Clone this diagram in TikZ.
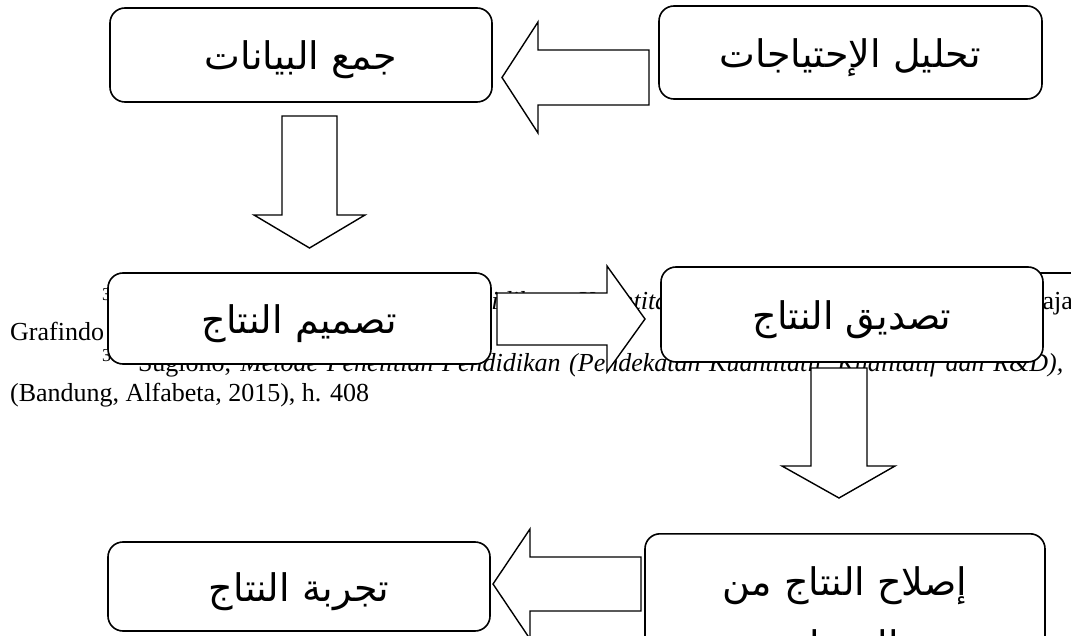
\documentclass[tikz,border=0pt]{standalone}
\usepackage{fontspec}
\setmainfont{Liberation Serif}
\newfontfamily\arabicfont[Script=Arabic]{DejaVu Sans}
\TeXXeTstate=1
\newcommand\artxt[1]{\raisebox{-5pt}[\height][\depth]{\beginR #1\endR}}
\begin{document}
\begin{tikzpicture}[x=1pt,y=-1pt,
  box/.style={draw, line width=1.6pt, rounded corners=15pt, fill=white,
    font=\arabicfont\fontsize{38}{44}\selectfont, inner sep=0pt},
  barrow/.style={draw, line width=1.4pt, fill=white, line join=miter},
  fn/.style={font=\fontsize{26}{30}\selectfont, inner sep=0pt, anchor=base west},
  fnr/.style={font=\fontsize{26}{30}\selectfont, inner sep=0pt, anchor=base east}]
\useasboundingbox (0,0) rectangle (1071,636);
\clip (0,0) rectangle (1071,636);
% background footnote text of the page
\coordinate (sepA) at (700,273);
\coordinate (sepB) at (1071,273);
\draw[line width=1.2pt] (sepA) -- (sepB);
\node[fn] (f1a) at (102,310) {\textsuperscript{34} Sugiyono, \textit{Metode Penelitian Pendidikan}};
\node[fn] (f1b) at (577,310) {\textit{Kuantitatif}};
\node[fnr] (f1c) at (1073,310) {Raja};
\node[fn] (f2) at (10,341) {Grafindo};
\node[fn] (f3) at (102,371) {\makebox[961pt][s]{\textsuperscript{35}\ \ Sugiono, \textit{Metode Penelitian Pendidikan (Pendekatan Kuantitatif, Kualitatif dan R\&D),}}};
\node[fn] (f4) at (10,401) {(Bandung, Alfabeta, 2015), h. 408};
% block arrows
\draw[barrow] (649,50) -- (538,50) -- (538,22) -- (502,77.5) -- (538,133) -- (538,105) -- (649,105) -- cycle;
\draw[barrow] (282,116) -- (337,116) -- (337,215) -- (365,215) -- (309.5,248) -- (254,215) -- (282,215) -- cycle;
\draw[barrow] (497,293) -- (607,293) -- (607,266) -- (645,319) -- (607,372) -- (607,345) -- (497,345) -- cycle;
\draw[barrow] (811,368) -- (867,368) -- (867,466) -- (895,466) -- (839,498) -- (782,466) -- (811,466) -- cycle;
\draw[barrow] (641,557) -- (530,557) -- (530,529) -- (493,584) -- (530,639) -- (530,611) -- (641,611) -- cycle;
% boxes
\node[box, minimum width=382pt, minimum height=94pt] (b1) at (301,55) {\artxt{جمع البيانات}};
\node[box, minimum width=383pt, minimum height=93pt] (b2) at (850.5,52.5) {\artxt{تحليل الإحتياجات}};
\node[box, minimum width=383pt, minimum height=91pt] (b3) at (299.5,318.5) {\artxt{تصميم النتاج}};
\node[box, minimum width=382pt, minimum height=95pt] (b4) at (852,314.5) {\artxt{تصديق النتاج}};
\node[box, minimum width=382pt, minimum height=89pt] (b5) at (299,586.5) {\artxt{تجربة النتاج}};
\node[box, anchor=north, minimum width=400pt, minimum height=166pt, align=center,
  font=\arabicfont\fontsize{38}{63}\selectfont] (b6) at (845,533)
  {\beginR إصلاح النتاج من\endR\\\beginR الخبراء\endR};
\end{tikzpicture}
\end{document}
